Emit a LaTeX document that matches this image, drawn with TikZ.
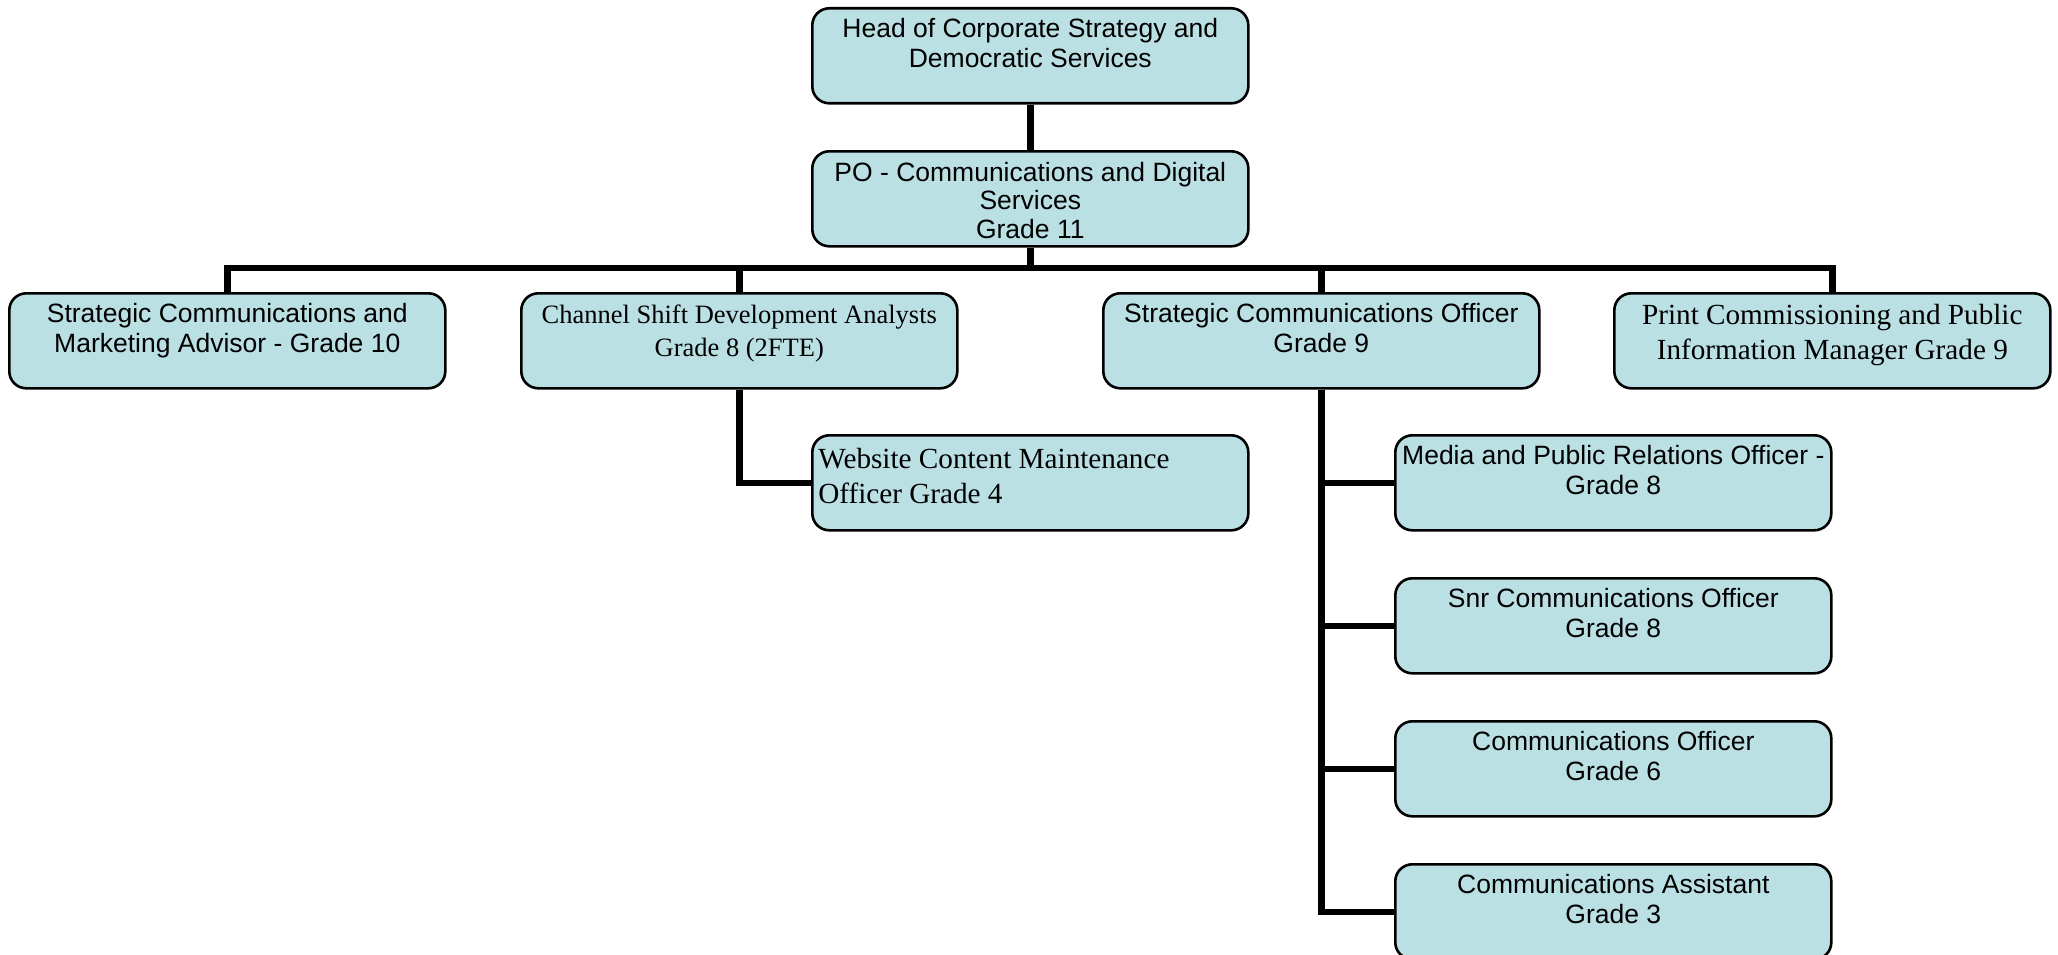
\documentclass[tikz,border=0pt]{standalone}
\usepackage{fontspec}
\newfontfamily\arialf{Liberation Sans}
\newfontfamily\timesf{Liberation Serif}
\definecolor{boxfill}{RGB}{186,224,228}
\newcommand{\sanstxt}[1]{\parbox[c][95pt][t]{430pt}{\centering\arialf\fontsize{26.5pt}{30pt}\selectfont\rule{0pt}{29.5pt}#1\par}}
\newcommand{\sanstxtb}[1]{\parbox[c][95pt][t]{430pt}{\centering\arialf\fontsize{26.5pt}{28.5pt}\selectfont\rule{0pt}{30pt}#1\par}}
\newcommand{\serifa}[1]{\parbox[c][95pt][t]{430pt}{\centering\timesf\fontsize{26.5pt}{33pt}\selectfont\rule{0pt}{30.5pt}#1\par}}
\newcommand{\serifb}[1]{\parbox[c][95pt][t]{430pt}{\centering\timesf\fontsize{29.2pt}{35pt}\selectfont\rule{0pt}{31pt}#1\par}}
\newcommand{\serifleft}[1]{\parbox[c][95pt][t]{424pt}{\raggedright\timesf\fontsize{29.2pt}{35pt}\selectfont\rule{0pt}{33.5pt}#1\par}}
\tikzset{
  orgbox/.style={draw=black, fill=boxfill, line width=2.6pt, rounded corners=17pt,
    minimum width=436pt, minimum height=95pt, inner sep=0pt, anchor=north west},
  conn/.style={draw=black, line width=6.5pt, line join=miter}
}
\begin{document}
\begin{tikzpicture}[x=1pt,y=1pt]
\useasboundingbox (0,0) rectangle (2058,-955);
\node[orgbox] (head) at (811,-7) {\sanstxt{Head of Corporate Strategy and\\Democratic Services}};
\node[orgbox] (po) at (811,-150) {\sanstxtb{PO - Communications and Digital\\Services\\Grade 11}};
\node[orgbox] (scma) at (8,-292) {\sanstxt{Strategic Communications and\\Marketing Advisor - Grade 10}};
\node[orgbox] (csda) at (520,-292) {\serifa{Channel Shift Development Analysts\\Grade 8 (2FTE)}};
\node[orgbox] (sco) at (1102,-292) {\sanstxt{Strategic Communications Officer\\Grade 9}};
\node[orgbox] (print) at (1613,-292) {\serifb{Print Commissioning and Public\\Information Manager Grade 9}};
\node[orgbox, inner xsep=6pt] (web) at (811,-434) {\serifleft{Website Content Maintenance\\Officer Grade 4}};
\node[orgbox] (media) at (1394,-434) {\sanstxt{Media and Public Relations Officer -\\Grade 8}};
\node[orgbox] (snr) at (1394,-577) {\sanstxt{Snr Communications Officer\\Grade 8}};
\node[orgbox] (co) at (1394,-720) {\sanstxt{Communications Officer\\Grade 6}};
\node[orgbox] (asst) at (1394,-863) {\sanstxt{Communications Assistant\\Grade 3}};
\coordinate (busy) at (0,-268);
\draw[conn] (head.south) -- (po.north);
\draw[conn] (po.south) -- (po.south |- busy);
\draw[conn] (scma.north) -- (scma.north |- busy) -- (print.north |- busy) -- (print.north);
\draw[conn] (csda.north) -- (csda.north |- busy);
\draw[conn] (sco.north) -- (sco.north |- busy);
\draw[conn] (csda.south) |- (web.west);
\draw[conn] (sco.south) |- (asst.west);
\draw[conn] (sco.south |- media.west) -- (media.west);
\draw[conn] (sco.south |- snr.west) -- (snr.west);
\draw[conn] (sco.south |- co.west) -- (co.west);
\end{tikzpicture}
\end{document}
